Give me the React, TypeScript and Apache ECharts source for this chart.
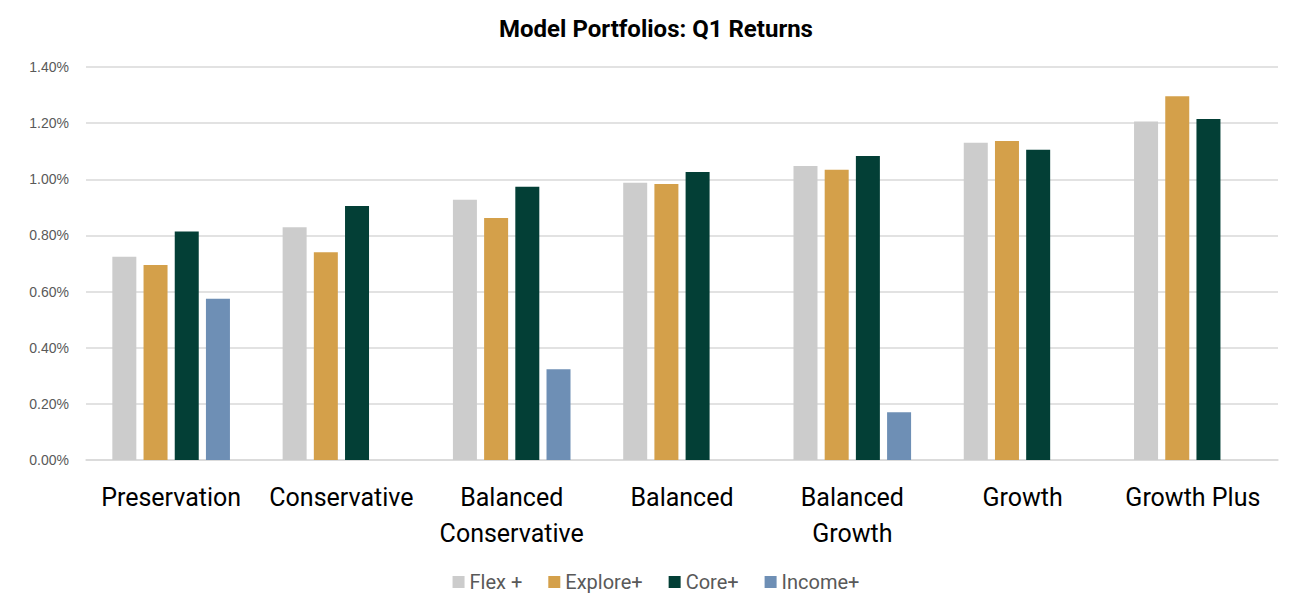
import React, { useEffect, useRef } from "react";
import * as echarts from "echarts";

const categories = [
  "Preservation",
  "Conservative",
  "Balanced\nConservative",
  "Balanced",
  "Balanced\nGrowth",
  "Growth",
  "Growth Plus",
];
const flexPlus = [0.724, 0.829, 0.927, 0.988, 1.047, 1.13, 1.206];
const explorePlus = [0.695, 0.74, 0.862, 0.983, 1.034, 1.136, 1.296];
const corePlus = [0.814, 0.905, 0.973, 1.026, 1.083, 1.105, 1.215];
const incomePlus = [0.574, null, 0.323, null, 0.17, null, null];

const seriesNames = ["Flex +", "Explore+", "Core+", "Income+"];
const seriesColors = ["#cccccc", "#d4a04a", "#033f36", "#6e8fb5"];
const seriesData = [flexPlus, explorePlus, corePlus, incomePlus];

export default function App() {
  const ref = useRef<HTMLDivElement>(null);
  useEffect(() => {
    if (!ref.current) return;
    const chart = echarts.init(ref.current, null, { renderer: "svg" });
    chart.setOption({
      animation: false,
      backgroundColor: "#ffffff",
      title: {
        text: "Model Portfolios: Q1 Returns",
        left: "center",
        top: 4,
        textStyle: {
          fontFamily: "Roboto",
          fontWeight: "bold",
          fontSize: 24,
          color: "#000000",
        },
      },
      legend: {
        bottom: 1,
        left: "center",
        itemWidth: 12,
        itemHeight: 12,
        itemGap: 26,
        icon: "rect",
        textStyle: { fontFamily: "Roboto", fontSize: 20, color: "#595959" },
        data: seriesNames,
      },
      grid: { left: 78, right: 26, top: 59, bottom: 138, containLabel: false },
      xAxis: {
        type: "category",
        data: categories,
        axisLine: { lineStyle: { color: "#d9d9d9", width: 1.5 } },
        axisTick: { show: false },
        axisLabel: {
          fontFamily: "Roboto",
          fontSize: 25,
          color: "#000000",
          margin: 19,
          lineHeight: 36,
          interval: 0,
        },
      },
      yAxis: {
        type: "value",
        min: 0,
        max: 1.4,
        interval: 0.2,
        axisLine: { show: false },
        axisTick: { show: false },
        splitLine: { lineStyle: { color: "#d9d9d9", width: 1.5 } },
        axisLabel: {
          fontFamily: "Liberation Sans",
          fontSize: 14,
          color: "#595959",
          margin: 17,
          formatter: (v: number) => v.toFixed(2) + "%",
        },
      },
      series: seriesNames.map((name, i) => ({
        name,
        type: "bar",
        data: seriesData[i],
        barWidth: 24,
        barGap: "30%",
        itemStyle: { color: seriesColors[i] },
      })),
    });
    return () => chart.dispose();
  }, []);
  return <div ref={ref} style={{ width: 1296, height: 590 }} />;
}
